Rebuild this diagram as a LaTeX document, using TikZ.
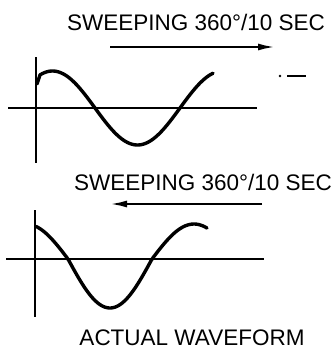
\documentclass[tikz,border=0pt]{standalone}
\usepackage{fontspec}
\setmainfont{Liberation Sans}
\usetikzlibrary{arrows.meta}
\begin{document}
\begin{tikzpicture}[
   x=1pt, y=-1pt,
   >={Latex[length=17pt,width=7pt]},
   axis/.style={line width=1.8pt},
   wave/.style={line width=3.4pt,line cap=round,line join=round},
   sweep/.style={->,line width=2.2pt},
   title/.style={font=\fontsize{22.5}{26}\selectfont,inner sep=0pt,anchor=base},
   ]
\useasboundingbox (0,0) rectangle (336,354);
%% Upper trace: sweeping left to right
\node[title] (t1) at (196,30) {SWEEPING 360°/10 SEC};
\coordinate (s1) at (110,47);
\coordinate (e1) at (275,47);
\draw[sweep] (s1) -- (e1);
\coordinate (v1a) at (36,57);
\coordinate (v1b) at (36,163);
\coordinate (h1a) at (8,108);
\coordinate (h1b) at (257,108);
\draw[axis] (v1a) -- (v1b);
\draw[axis] (h1a) -- (h1b);
\draw[wave] (37,84) --
   plot[domain=40:213,samples=90,smooth] (\x,{108+37*sin((\x-95)/170*360)});
\fill (280,76) circle (1.3pt);
\draw[line width=2pt] (287,76) -- (306,76);
%% Lower trace: sweeping right to left
\node[title] (t2) at (203,190) {SWEEPING 360°/10 SEC};
\coordinate (s2) at (262,204);
\coordinate (e2) at (110,204);
\draw[sweep] (s2) -- (e2);
\coordinate (v2a) at (35,210);
\coordinate (v2b) at (35,317);
\coordinate (h2a) at (6,259);
\coordinate (h2b) at (264,259);
\draw[axis] (v2a) -- (v2b);
\draw[axis] (h2a) -- (h2b);
\draw[wave] plot[domain=36:207,samples=90,smooth]
   (\x,{259+sin((\x-68)/168*360)*ifthenelse(sin((\x-68)/168*360)>0,49,35)});
%% caption
\node[title] (cap) at (192,345) {ACTUAL WAVEFORM};
\end{tikzpicture}
\end{document}
